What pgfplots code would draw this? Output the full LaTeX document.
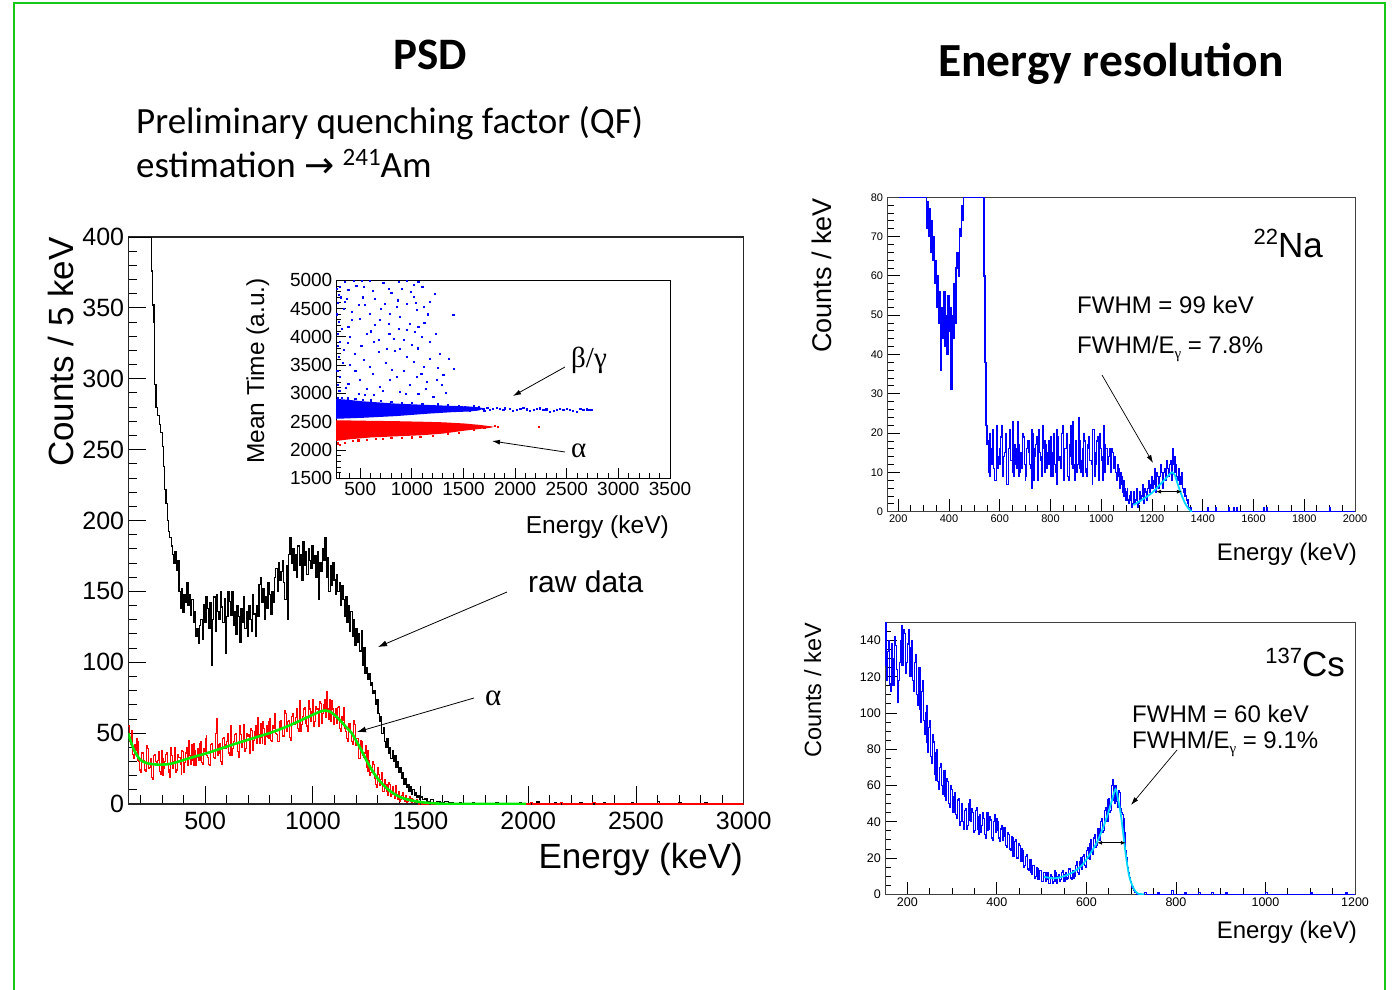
\documentclass[border=0pt]{standalone}
\usepackage{fontspec}
\setmainfont{Liberation Sans}
\newfontfamily\calibri{Carlito}
\newfontfamily\greekfont{Liberation Serif}
\newfontfamily\arrowfont{DejaVu Sans}
\usepackage{pgfplots}
\pgfplotsset{compat=1.18}
\usetikzlibrary{arrows.meta}

\definecolor{framegreen}{RGB}{24,200,24}
\definecolor{fitgreen}{RGB}{0,235,0}
\definecolor{fitcyan}{RGB}{0,215,255}

\newcommand{\fs}[1]{\fontsize{#1pt}{#1pt}\selectfont}

\pgfplotsset{
  rootframe/.style={
    scale only axis, anchor=south west,
    axis line style={line width=1pt, black},
    tick align=inside, tick pos=left,
    tick style={black, line width=0.9pt},
    /pgf/number format/assume math mode=true,
    /pgf/number format/1000 sep={},
    axis background/.style={fill=white},
    xticklabel style={anchor=north},
    yticklabel style={anchor=east},
  },
  hist/.style={const plot mark left, mark=none, line width=1.1pt},
}

\begin{document}
\begin{tikzpicture}
\path[use as bounding box] (0pt,0pt) rectangle (1393pt,-990pt);

% ---------- 241Am spectrum ----------
\begin{axis}[rootframe, at={(128.3pt,-804pt)}, width=615.4pt, height=567pt,
  xmin=143, xmax=3000, ymin=0, ymax=400,
  xtick={500,1000,...,3000}, minor xtick={200,300,...,2900},
  ytick={0,50,...,400}, minor ytick={10,20,...,390},
  major tick length=18pt, minor tick length=9pt,
  xticklabel style={font=\fs{25}, inner sep=0pt, yshift=-8pt},
  yticklabel style={font=\fs{25}, inner sep=0pt, xshift=-4pt},
  axis line style={line width=1.3pt, black!85},
]
% raw data
\addplot[hist, black, line width=1.2pt] table {
E N
143 400
252 376
256 352
262 340
266 296
272 280
280 274
288 268
294 262
300 252
306 238
312 222
318 212
324 200
330 192
336 188
342 182
348 176
354 170
360 178
366 165
372 172
378 150
384 138
390 152
396 135
402 148
408 142
414 156
420 140
426 148
432 133
438 144
444 128
450 136
456 118
462 124
468 113
474 126
480 130
486 116
492 141
498 128
504 146
510 138
516 124
522 142
528 98
534 130
540 146
546 122
552 148
558 136
564 130
570 150
576 139
582 128
588 145
594 106
600 132
606 150
612 143
618 133
624 150
630 126
636 136
642 120
648 140
654 132
660 114
666 138
672 128
678 146
684 124
690 136
696 118
702 140
708 130
714 122
720 148
726 134
732 118
738 140
744 132
750 155
756 160
762 142
768 152
774 130
780 146
786 138
792 156
798 148
804 134
810 150
816 142
822 160
828 166
834 150
840 170
846 158
852 164
858 172
864 156
870 144
876 168
882 130
888 176
894 188
900 170
906 180
912 165
918 176
924 160
930 182
936 168
942 176
948 158
954 185
960 168
966 178
972 162
978 180
984 172
990 166
996 182
1002 170
1008 175
1014 160
1020 178
1026 144
1032 170
1038 164
1044 180
1050 172
1056 188
1062 160
1068 174
1074 150
1080 168
1086 154
1092 170
1098 158
1104 148
1110 162
1116 150
1122 156
1128 140
1134 154
1140 144
1146 132
1152 146
1158 128
1164 140
1170 122
1176 136
1182 118
1188 130
1194 112
1200 124
1206 114
1212 120
1218 108
1224 122
1230 98
1236 110
1242 92
1248 96
1254 88
1260 92
1266 84
1272 86
1278 78
1284 80
1290 70
1296 74
1302 64
1308 58
1314 62
1320 50
1326 54
1332 44
1338 40
1344 46
1350 36
1356 40
1362 32
1368 38
1374 30
1380 34
1386 26
1392 30
1398 22
1404 26
1410 18
1416 22
1422 14
1428 18
1434 12
1440 14
1446 9
1452 12
1458 7
1464 10
1470 6
1476 8
1482 5
1488 6
1494 3
1500 5
1510 3
1520 4
1530 2
1545 3
1560 1
1575 2
1590 1
1610 2
1630 1
1650 0
1680 1
1690 0
1740 1
1750 0
1850 1
1860 0
1960 1
1970 0
2040 2
2050 0
2120 1
2130 0
2240 1
2250 0
2350 1
2360 0
2480 1
2490 0
2600 2
2610 0
2700 1
2710 0
2820 1
2830 0
3000 0
};
% alpha events
\addplot[hist, red, line width=1.1pt] table {
E N
143 55
148 44
152 42
156 52
160 51
164 35
168 32
172 42
176 38
180 46
184 44
188 31
192 30
196 24
200 22
204 36
208 36
212 31
216 31
220 24
224 23
228 41
232 39
236 25
240 26
244 31
248 32
252 19
256 17
260 34
264 35
268 30
272 27
276 27
280 31
284 37
288 23
292 21
296 38
300 32
304 20
308 25
312 30
316 35
320 36
324 28
328 24
332 22
336 19
340 40
344 34
348 25
352 30
356 31
360 40
364 22
368 24
372 35
376 33
380 33
384 28
388 21
392 38
396 37
400 22
404 29
408 36
412 40
416 32
420 27
424 45
428 34
432 28
436 42
440 31
444 27
448 43
452 38
456 27
460 33
464 39
468 31
472 31
476 43
480 44
484 29
488 28
492 39
496 37
500 46
504 48
508 34
512 33
516 28
520 27
524 42
528 43
532 38
536 38
540 33
544 32
548 50
552 60
556 34
560 36
564 42
568 43
572 30
576 28
580 46
584 47
588 42
592 39
596 39
600 44
604 50
608 36
612 34
616 55
620 46
624 34
628 39
632 44
636 49
640 50
644 43
648 39
652 37
656 33
660 55
664 49
668 40
672 45
676 46
680 56
684 37
688 39
692 50
696 48
700 49
704 43
708 36
712 53
716 52
720 38
724 45
728 51
732 55
736 47
740 43
744 61
748 49
752 43
756 57
760 47
764 43
768 58
772 53
776 42
780 48
784 55
788 47
792 46
796 58
800 60
804 45
808 44
812 55
816 53
820 62
824 64
828 50
832 49
836 44
840 44
844 58
848 59
852 54
856 54
860 48
864 48
868 66
872 64
876 51
880 53
884 58
888 59
892 47
896 45
900 62
904 64
908 59
912 56
916 56
920 61
924 67
928 53
932 51
936 73
940 63
944 51
948 56
952 62
956 67
960 68
964 61
968 57
972 55
976 51
980 73
984 67
988 58
992 63
996 65
1000 74
1004 55
1008 58
1012 69
1016 67
1020 67
1024 62
1028 55
1032 72
1036 71
1040 57
1044 64
1048 70
1052 74
1056 66
1060 61
1064 79
1068 67
1072 60
1076 74
1080 63
1084 58
1088 73
1092 67
1096 56
1100 61
1104 67
1108 58
1112 57
1116 68
1120 69
1124 53
1128 51
1132 62
1136 59
1140 66
1144 68
1148 53
1152 51
1156 46
1160 44
1164 57
1168 57
1172 52
1176 51
1180 44
1184 42
1188 59
1192 56
1196 41
1200 42
1204 46
1208 46
1212 32
1216 32
1220 45
1224 44
1228 38
1232 34
1236 33
1240 36
1244 41
1248 26
1252 23
1256 38
1260 31
1264 20
1268 22
1272 26
1276 30
1280 28
1284 21
1288 18
1292 14
1296 12
1300 26
1304 21
1308 13
1312 17
1316 17
1320 22
1324 9
1328 9
1332 17
1336 14
1340 14
1344 9
1348 6
1352 15
1356 14
1360 5
1364 7
1368 11
1372 12
1376 7
1380 4
1384 13
1388 7
1392 3
1396 9
1400 6
1404 2
1408 3
1412 6
1416 8
1420 3
1424 2
1428 6
1432 5
1436 1
1440 2
1444 4
1448 5
1452 2
1456 1
1460 4
1464 3
1468 2
1472 1
1476 1
1480 3
1484 2
1488 1
1492 0
1496 2
1500 1
1504 0
1512 1
1520 0
1536 1
1552 0
2010 1
2020 0
2150 1
2160 0
2300 1
2310 0
3000 0
};
% fit to the alpha spectrum
\addplot[fitgreen, line width=2.6pt, smooth, mark=none] table {
E N
143 50
155 44
170 38
185 34
200 31
225 29
260 28
300 27.8
340 28.4
395 30.8
450 33.4
500 35.5
550 38
600 40.5
650 43
705 45.6
760 48.2
810 50.6
860 53.5
900 56
950 59.5
1000 63
1030 65
1055 66
1075 65.5
1095 63.5
1120 60
1150 55
1180 50
1205 43.5
1225 38
1246 31.5
1270 25
1293 19.5
1320 14.5
1355 9.5
1390 6
1420 4
1450 2.8
1480 1.8
1520 1
1560 0.5
1600 0.2
1650 0
1990 0
};
\end{axis}

% ---------- PSD scatter (inset) ----------
\begin{axis}[rootframe, at={(336pt,-478.3pt)}, width=334pt, height=198pt,
  xmin=265, xmax=3500, ymin=1500, ymax=5000,
  xtick={500,1000,...,3500}, minor xtick={300,400,...,3400},
  ytick={1500,2000,...,5000}, minor ytick={1600,1700,...,4900},
  major tick length=10pt, minor tick length=5pt,
  xticklabel style={font=\fs{19}, inner sep=0pt, yshift=-3.5pt},
  yticklabel style={font=\fs{19}, inner sep=0pt, xshift=-3.5pt},
]
% beta/gamma band
\addplot[fill=blue, draw=none] table {
E T
265 2900
340 2895
530 2860
850 2820
1175 2795
1400 2780
1550 2770
1650 2755
1700 2735
1650 2700
1550 2680
1400 2670
1175 2645
850 2600
530 2570
265 2552
};
% alpha band
\addplot[fill=red, draw=none] table {
E T
265 2525
400 2522
600 2516
850 2510
1100 2500
1300 2490
1500 2470
1650 2445
1760 2420
1795 2410
1760 2392
1650 2372
1500 2340
1300 2290
1100 2262
850 2242
600 2222
400 2190
265 2160
};
% isolated alpha events
\addplot[only marks, mark=square*, mark size=0.6pt, red] table {
E T
280 2120
300 2100
350 2135
430 2160
480 2172
560 2185
650 2200
720 2195
800 2215
900 2222
1000 2228
1080 2240
1200 2252
1350 2282
1450 2305
1600 2360
1700 2400
1800 2425
1830 2415
2230 2410
};
% isolated beta/gamma events
\addplot[only marks, mark=square*, mark size=0.6pt, blue] table {
E T
352 4976
433 4988
514 4993
594 4988
723 4958
869 4970
949 4988
1062 4976
304 4887
384 4828
530 4887
772 4858
901 4858
1014 4917
1224 4758
288 4740
368 4681
481 4563
546 4563
643 4681
739 4593
788 4416
852 4534
949 4593
1014 4711
1046 4475
1111 4534
1175 4622
336 4504
417 4445
594 4416
885 4357
981 4239
691 4298
1401 4398
288 4269
384 4180
497 4328
562 4062
643 4210
772 4239
869 4151
981 4227
1030 4092
1062 4180
1094 4003
1175 3915
401 4003
304 3915
627 3915
820 3974
917 3945
998 3856
336 3768
449 3709
530 3591
675 3738
756 3797
885 3797
949 3650
1014 3561
1111 3473
1175 3620
1353 3620
1407 3444
594 3473
401 3503
304 3296
384 3178
497 3237
562 3090
691 3119
788 3237
852 3296
981 3149
1046 3296
1143 3208
1240 3237
1304 3326
804 3414
481 3001
627 2972
885 3031
1062 3001
1207 2943
275 4850
280 4600
272 4400
285 4050
278 3850
290 3650
276 3400
282 3150
295 3050
310 4700
320 4150
330 3550
460 4900
620 4820
800 4780
990 4800
1100 4880
350 4620
520 4700
700 4500
860 4650
1040 4600
1150 4400
420 4300
600 4100
780 4050
950 4120
1120 4250
1230 4050
380 3900
510 3850
680 3950
830 3750
1060 3800
1270 3700
450 3400
620 3350
750 3550
920 3400
1090 3350
1250 3450
360 3100
540 2980
720 3050
940 2990
1130 3080
1330 3020
1290 3150
280 2930
320 2920
380 2915
450 2905
520 2890
600 2880
700 2870
800 2850
900 2840
1000 2830
1100 2820
1250 2810
1350 2800
1450 2790
1600 2780
1420 2700
1460 2750
1480 2690
1510 2760
1530 2736
1560 2700
1595 2766
1620 2720
1650 2760
1691 2736
1700 2700
1730 2745
1756 2719
1780 2730
1821 2754
1850 2725
1885 2707
1900 2740
1950 2736
1980 2700
2014 2719
2050 2730
2079 2748
2110 2720
2143 2695
2180 2710
2208 2736
2240 2740
2272 2719
2300 2720
2337 2683
2370 2700
2401 2707
2430 2730
2466 2719
2500 2725
2530 2707
2560 2700
2595 2683
2630 2735
2660 2719
2690 2720
2718 2707
2745 2715
};
\end{axis}

% ---------- 22Na spectrum ----------
\begin{axis}[rootframe, at={(887.3pt,-511.7pt)}, width=467.7pt, height=314.4pt,
  xmin=157, xmax=2000, ymin=0, ymax=80,
  xtick={200,400,...,2000}, minor xtick={200,250,...,2000},
  ytick={0,10,...,80}, minor ytick={0,2,...,80},
  major tick length=13pt, minor tick length=6.5pt,
  xticklabel style={font=\fs{11}, inner sep=0pt, yshift=-3pt},
  yticklabel style={font=\fs{11}, inner sep=0pt, xshift=-4pt},
  axis line style={line width=0.9pt, black!75},
]
\addplot[hist, blue, line width=1.2pt] table {
E N
205 80
312 72
316 79
320 70
324 77
328 66
332 74
336 64
340 70
344 58
348 64
352 52
356 60
360 48
364 56
368 36
372 52
376 44
380 56
384 42
388 50
392 40
396 55
400 46
404 52
408 31
412 50
416 44
420 58
424 48
428 62
432 66
436 60
440 72
444 70
448 78
452 74
456 80
538 60
542 38
546 22
550 17
553 18
556 10
559 9
562 20
565 16
568 12
571 21
574 15
577 11
580 8
583 8
586 22
589 19
592 11
595 14
598 16
601 12
604 19
607 22
610 9
613 10
616 14
619 15
622 18
625 20
628 7
631 7
634 16
637 17
640 21
643 13
646 13
649 23
652 10
655 9
658 17
661 16
664 12
667 11
670 23
673 17
676 9
679 10
682 15
685 14
688 11
691 20
694 19
697 12
700 8
703 9
706 16
709 18
712 18
715 15
718 12
721 11
724 6
727 21
730 20
733 8
736 14
739 16
742 17
745 19
748 10
751 8
754 21
757 15
760 13
763 14
766 9
769 22
772 16
775 10
778 18
781 17
784 11
787 12
790 15
793 18
796 12
799 9
802 19
805 15
808 9
811 20
814 17
817 12
820 10
823 7
826 21
829 19
832 13
835 14
838 14
841 11
844 20
847 22
850 8
853 10
856 16
859 16
862 19
865 20
868 9
871 8
874 14
877 17
880 22
883 12
886 11
889 23
892 12
895 8
898 18
901 15
904 10
907 12
910 24
913 18
916 11
919 10
922 13
925 16
928 9
931 20
934 18
937 11
940 10
943 9
946 17
949 19
952 16
955 13
958 13
961 12
964 7
967 21
970 21
973 9
976 12
979 15
982 18
985 19
988 9
991 8
994 20
997 16
1000 14
1003 13
1006 8
1009 22
1012 17
1015 10
1018 16
1021 16
1024 12
1027 12
1030 14
1033 16
1036 10
1039 10
1042 16
1045 15
1048 11
1051 14
1054 13
1057 10
1060 8
1063 9
1066 12
1069 11
1072 6
1075 7
1078 10
1081 9
1084 5
1087 4
1090 8
1093 6
1096 3
1099 5
1102 6
1105 3
1108 2
1111 4
1114 5
1117 3
1120 1
1123 2
1126 4
1129 5
1132 2
1135 3
1138 6
1141 4
1144 1
1147 2
1150 4
1153 5
1156 3
1159 4
1162 7
1165 4
1168 2
1171 6
1174 5
1177 3
1180 4
1183 6
1186 8
1189 7
1192 5
1195 6
1198 9
1201 8
1204 6
1207 7
1210 11
1213 9
1216 5
1219 10
1222 9
1225 6
1228 7
1231 9
1234 12
1237 10
1240 6
1243 8
1246 10
1249 11
1252 8
1255 9
1258 13
1261 11
1264 9
1267 10
1270 12
1273 13
1276 8
1279 11
1282 16
1285 12
1288 10
1291 14
1294 12
1297 9
1300 8
1303 10
1306 11
1309 7
1312 9
1315 10
1318 7
1321 6
1324 5
1327 4
1330 6
1333 4
1336 3
1339 3
1342 2
1345 1
1348 1
1351 1
1354 0
1420 1
1424 0
1450 1
1454 0
1500 1
1504 0
1520 1
1524 0
1532 1
1536 0
1640 1
1644 0
1652 1
1656 0
1900 1
1904 0
2000 0
};
\addplot[fitcyan, line width=1.8pt, smooth, mark=none] table {
E N
1127 1.7
1160 3.0
1200 4.8
1230 6.8
1255 8.5
1270 9.6
1280 10
1290 9.3
1300 7.3
1315 4.5
1330 2.2
1345 0.7
1357 0
};
\draw[black, line width=0.8pt, {Latex[length=5pt,width=4pt]}-{Latex[length=5pt,width=4pt]}] (axis cs:1216,5.1) -- (axis cs:1318,5.1);
\end{axis}

% ---------- 137Cs spectrum ----------
\begin{axis}[rootframe, at={(885pt,-894.3pt)}, width=470pt, height=272pt,
  xmin=150, xmax=1200, ymin=0, ymax=150,
  xtick={200,400,...,1200}, minor xtick={150,200,...,1200},
  ytick={0,20,...,140}, minor ytick={0,5,...,150},
  major tick length=12pt, minor tick length=6pt,
  xticklabel style={font=\fs{12.5}, inner sep=0pt, yshift=-3pt},
  yticklabel style={font=\fs{12.5}, inner sep=0pt, xshift=-4pt},
  axis line style={line width=0.9pt, black!75},
]
\addplot[hist, blue, line width=1.2pt] table {
E N
150 150
152 126
154 118
156 134
158 140
160 116
162 112
164 138
166 130
168 115
170 120
172 142
174 137
176 124
178 106
180 118
182 128
184 140
186 148
188 126
190 132
192 146
194 144
196 122
198 128
200 138
202 146
204 130
206 120
208 136
210 140
212 118
214 112
216 128
218 132
220 110
222 104
224 120
226 125
228 102
230 95
232 112
234 118
236 96
238 88
240 100
242 104
244 84
246 78
248 92
250 96
252 76
254 72
256 88
258 84
260 66
262 63
264 78
266 80
268 62
270 58
272 70
274 72
276 60
278 55
280 66
282 68
284 54
286 52
288 64
290 62
292 50
294 48
296 60
298 58
300 46
302 45
304 54
306 56
308 44
310 42
312 52
314 53
316 38
318 40
320 48
322 50
324 40
326 36
328 46
330 47
332 36
334 38
336 50
338 52
340 41
342 40
344 47
346 45
348 34
350 35
352 46
354 48
356 36
358 33
360 43
362 44
364 34
366 38
368 45
370 42
372 33
374 31
376 42
378 45
380 35
382 36
384 43
386 41
388 31
390 30
392 40
394 44
396 34
398 35
400 42
402 40
404 31
406 29
408 36
410 38
412 30
414 32
416 37
418 36
420 27
422 26
424 34
426 33
428 25
430 24
432 32
434 31
436 21
438 22
440 29
442 30
444 20
446 20
448 28
450 27
452 18
454 18
456 25
458 24
460 15
462 16
464 21
466 22
468 14
470 13
472 19
474 19
476 12
478 11
480 16
482 16
484 9
486 10
488 15
490 14
492 8
494 8
496 13
498 13
500 7
502 7
504 12
506 12
508 7
510 8
512 12
514 11
516 6
518 6
520 11
522 10
524 6
526 7
528 13
530 12
532 7
534 6
536 10
538 11
540 7
542 8
544 12
546 13
548 8
550 7
552 11
554 12
556 8
558 9
560 14
562 14
564 9
566 8
568 12
570 13
572 9
574 10
576 16
578 18
580 12
582 11
584 18
586 20
588 15
590 14
592 21
594 22
596 16
598 15
600 24
602 26
604 20
606 19
608 28
610 30
612 24
614 22
616 31
618 33
620 26
622 27
624 35
626 36
628 31
630 30
632 40
634 42
636 34
638 35
640 46
642 48
644 41
646 40
648 52
650 53
652 45
654 46
656 60
658 63
660 52
662 50
664 60
666 58
668 51
670 48
672 57
674 56
676 47
678 45
680 44
682 42
684 34
686 28
688 24
690 20
692 15
694 12
696 9
698 7
700 5
702 4
704 3
706 2
708 1
710 1
712 0
730 1
734 0
760 1
764 0
790 2
794 0
820 1
824 0
850 1
854 0
880 1
884 0
910 1
914 0
1000 1
1004 0
1100 1
1104 0
1180 1
1184 0
1200 0
};
\addplot[fitcyan, line width=1.8pt, smooth, mark=none] table {
E N
505 9.7
527 8.8
550 10
572 12.5
590 16
602 20
615 25
624 29
636 36
647 43.7
656 51
665 58
671 52
677 43.7
683 32
688 21.7
694 12
699 7
706 3
714 0.5
729 0
};
\draw[black, line width=0.8pt, {Latex[length=5pt,width=4pt]}-{Latex[length=5pt,width=4pt]}] (axis cs:624,28.4) -- (axis cs:688,28.4);
\end{axis}

% ---------- slide text, axis titles and annotations ----------
\begin{scope}[x=1pt, y=-1pt, every node/.style={inner sep=0pt}]
  \draw[framegreen, line width=2.5pt] (14,3) rectangle (1385,1020);

  \node[anchor=base, font=\calibri\bfseries\fs{45}] at (430,70) {PSD};
  \node[anchor=base west, font=\calibri\bfseries\fs{47.5}] at (938,77) {Energy resolution};
  \node[anchor=base west, font=\calibri\fs{37}] at (136,133) {Preliminary quenching factor (QF)};
  \node[anchor=base west, font=\calibri\fs{37}] at (136,177)
    {estimation {\arrowfont\fs{36}→} \raisebox{12pt}{\fs{25}241}Am};

  % main spectrum titles
  \node[rotate=90, anchor=base east, font=\fs{35}] at (73,237) {Counts / 5 keV};
  \node[anchor=base east, font=\fs{35}] at (743,868) {Energy (keV)};
  \node[anchor=base west, font=\fs{30}] at (528,592) {raw data};
  \node[anchor=base west, font=\greekfont\fs{31}] at (485,705) {α};
  \draw[line width=0.8pt, -{Latex[length=9pt,width=6pt]}] (507,592) -- (378,647);
  \draw[line width=0.8pt, -{Latex[length=9pt,width=6pt]}] (474,698) -- (357,732);

  % inset titles
  \node[rotate=90, anchor=base east, font=\fs{24.5}] at (264,278) {Mean Time (a.u.)};
  \node[anchor=base east, font=\fs{24.5}] at (669,533) {Energy (keV)};
  \node[anchor=base west, font=\greekfont\fs{29}] at (571,367) {β/γ};
  \node[anchor=base west, font=\greekfont\fs{29}] at (571,457) {α};
  \draw[line width=0.8pt, -{Latex[length=8pt,width=5pt]}] (565,367) -- (513,396);
  \draw[line width=0.8pt, -{Latex[length=8pt,width=5pt]}] (565,452) -- (492,441);

  % 22Na titles
  \node[rotate=90, anchor=base east, font=\fs{27}] at (831,198) {Counts / keV};
  \node[anchor=base east, font=\fs{24}] at (1357,560) {Energy (keV)};
  \node[anchor=base east, font=\fs{35}] at (1323,257) {\raisebox{13pt}{\fs{22}22}Na};
  \node[anchor=base west, font=\fs{24}] at (1077,313) {FWHM = 99 keV};
  \node[anchor=base west, font=\fs{24}] at (1077,353) {FWHM/E\raisebox{-5pt}{\greekfont\fs{15}γ} = 7.8\%};
  \draw[line width=0.7pt, -{Latex[length=8pt,width=5pt]}] (1102,375) -- (1153,463);

  % 137Cs titles
  \node[rotate=90, anchor=base east, font=\fs{23.5}] at (821,623) {Counts / keV};
  \node[anchor=base east, font=\fs{24}] at (1357,938) {Energy (keV)};
  \node[anchor=base east, font=\fs{35}] at (1345,676) {\raisebox{13pt}{\fs{22}137}Cs};
  \node[anchor=base west, font=\fs{24}] at (1132,722) {FWHM = 60 keV};
  \node[anchor=base west, font=\fs{24}] at (1132,748) {FWHM/E\raisebox{-5pt}{\greekfont\fs{15}γ} = 9.1\%};
  \draw[line width=0.7pt, -{Latex[length=8pt,width=5pt]}] (1177,750) -- (1131,805);
\end{scope}
\end{tikzpicture}
\end{document}
